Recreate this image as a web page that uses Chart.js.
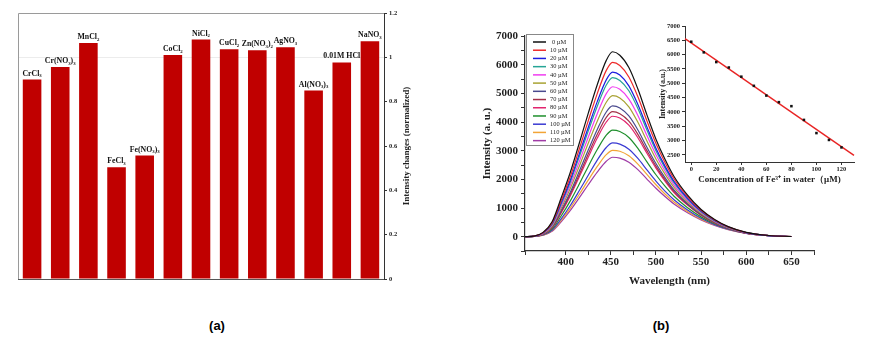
<!DOCTYPE html>
<html>
<head>
<meta charset="utf-8">
<script src="https://cdn.jsdelivr.net/npm/chart.js@4/dist/chart.umd.min.js"></script>
<style>
  html, body { margin: 0; padding: 0; background: #fff; }
  body { width: 872px; height: 338px; position: relative; overflow: hidden; }
  canvas { position: absolute; }
  #chartA { left: 0; top: 0; }
  #chartB { left: 440px; top: 0; }
  #chartC { left: 640px; top: 0; }
  .tag { position: absolute; top: 318px; font: bold 13px "Liberation Sans Narrow", "Liberation Sans", sans-serif; transform: translateX(-50%); }
</style>
</head>
<body>
<canvas id="chartA" width="430" height="300"></canvas>
<canvas id="chartB" width="432" height="300"></canvas>
<canvas id="chartC" width="232" height="200"></canvas>
<div class="tag" style="left:217px">(a)</div>
<div class="tag" style="left:661px">(b)</div>
<script>
// panel (a): normalized intensity change per salt
const salts = ["CrCl₃", "Cr(NO₃)₃", "MnCl₂", "FeCl₃", "Fe(NO₃)₃", "CoCl₂", "NiCl₂", "CuCl₂", "Zn(NO₃)₂", "AgNO₃", "Al(NO₃)₃", "0.01M HCl", "NaNO₃"];
const saltChange = [0.90, 0.956, 1.065, 0.504, 0.557, 1.01, 1.08, 1.036, 1.032, 1.045, 0.85, 0.977, 1.072];
const ticksA = [0, 0.2, 0.4, 0.6, 0.8, 1, 1.2];

// panel (b): emission spectra for each Fe3+ concentration
const wavelengths = [355, 365, 375, 385, 395, 405, 415, 425, 435, 445, 452, 460, 470, 480, 490, 500, 510, 520, 535, 550, 565, 580, 600, 625, 650];
const concLabels = ["0 µM", "10 µM", "20 µM", "30 µM", "40 µM", "50 µM", "60 µM", "70 µM", "80 µM", "90 µM", "100 µM", "110 µM", "120 µM"];
const concColors = ["#111111", "#ee2a2a", "#1c1ce0", "#26a596", "#f03cf0", "#a8a232", "#4a4a8e", "#a23048", "#e2256e", "#1f8f2c", "#3a3ad2", "#f2a436", "#a03ca6"];
const spec0 = [0, 20, 150, 520, 1350, 2230, 3250, 4300, 5300, 6150, 6450, 6330, 5900, 5150, 4250, 3400, 2700, 2100, 1450, 950, 600, 350, 150, 40, 5];
const spec10 = [0, 18, 140, 480, 1250, 2080, 3050, 4040, 4990, 5800, 6080, 5970, 5570, 4880, 4040, 3250, 2590, 2020, 1400, 920, 580, 340, 145, 40, 5];
const spec20 = [0, 17, 130, 450, 1180, 1960, 2880, 3810, 4710, 5470, 5740, 5640, 5260, 4610, 3830, 3080, 2460, 1930, 1340, 890, 565, 335, 140, 38, 5];
const spec30 = [0, 16, 125, 430, 1130, 1890, 2780, 3680, 4550, 5290, 5550, 5450, 5090, 4470, 3720, 3000, 2400, 1880, 1310, 870, 555, 330, 140, 38, 5];
const spec40 = [0, 15, 115, 400, 1060, 1780, 2610, 3470, 4290, 4990, 5230, 5140, 4800, 4230, 3530, 2860, 2290, 1800, 1260, 840, 540, 320, 135, 37, 5];
const spec50 = [0, 14, 105, 370, 990, 1670, 2450, 3260, 4030, 4690, 4920, 4840, 4530, 3990, 3340, 2710, 2180, 1720, 1210, 810, 520, 310, 132, 36, 5];
const spec60 = [0, 13, 95, 340, 910, 1540, 2270, 3020, 3740, 4350, 4560, 4490, 4210, 3720, 3120, 2550, 2060, 1630, 1150, 780, 500, 300, 128, 35, 5];
const spec70 = [0, 12, 90, 320, 860, 1470, 2160, 2880, 3570, 4160, 4360, 4290, 4030, 3570, 3000, 2460, 1990, 1580, 1120, 760, 490, 295, 126, 35, 5];
const spec80 = [0, 12, 85, 305, 825, 1410, 2080, 2770, 3440, 4000, 4200, 4140, 3890, 3450, 2910, 2390, 1940, 1540, 1100, 745, 480, 290, 125, 35, 5];
const spec90 = [0, 10, 75, 265, 720, 1240, 1830, 2450, 3040, 3540, 3720, 3670, 3460, 3080, 2610, 2160, 1760, 1410, 1010, 690, 450, 275, 120, 34, 5];
const spec100 = [0, 9, 60, 225, 620, 1080, 1600, 2140, 2670, 3110, 3270, 3230, 3050, 2730, 2330, 1940, 1590, 1290, 930, 640, 420, 260, 115, 33, 5];
const spec110 = [0, 8, 55, 205, 565, 990, 1470, 1970, 2450, 2860, 3010, 2980, 2820, 2530, 2170, 1810, 1490, 1210, 880, 610, 405, 250, 112, 32, 5];
const spec120 = [0, 7, 50, 185, 515, 905, 1350, 1810, 2250, 2630, 2770, 2740, 2600, 2340, 2010, 1690, 1400, 1140, 835, 585, 390, 242, 110, 32, 5];
const spectra = [spec0, spec10, spec20, spec30, spec40, spec50, spec60, spec70, spec80, spec90, spec100, spec110, spec120];

// inset: peak intensity vs concentration, with linear fit
const fe3Conc = [0, 10, 20, 30, 40, 50, 60, 70, 80, 90, 100, 110, 120];
const peakIntensity = [6450, 6080, 5740, 5550, 5230, 4910, 4570, 4340, 4200, 3720, 3260, 3020, 2760];
const fitX = [-5, 130];
const fitY = [6560, 2480];
const insetXTicks = [0, 20, 40, 60, 80, 100, 120];
const insetYTicks = [2500, 3000, 3500, 4000, 4500, 5000, 5500, 6000, 6500, 7000];

const SERIF = '"Liberation Serif", "Times New Roman", serif';
const axisColor = '#333';
const SUBS = "₀₁₂₃₄₅₆₇₈₉";

// draws a formula with unicode subscript digits as small lowered digits, centred on x
function drawFormula(ctx, text, x, y, size) {
    const parts = [];
    for (const ch of text) {
        const k = SUBS.indexOf(ch);
        const sub = k >= 0;
        const c = sub ? String(k) : ch;
        const last = parts[parts.length - 1];
        if (last && last.sub === sub) last.t += c;
        else parts.push({ t: c, sub });
    }
    const fBig = 'bold ' + size + 'px ' + SERIF;
    const fSub = 'bold ' + (size * 0.62).toFixed(2) + 'px ' + SERIF;
    let w = 0;
    parts.forEach(p => { ctx.font = p.sub ? fSub : fBig; p.w = ctx.measureText(p.t).width; w += p.w; });
    let cx = x - w / 2;
    ctx.textAlign = 'left';
    parts.forEach(p => {
        ctx.font = p.sub ? fSub : fBig;
        ctx.fillText(p.t, cx, p.sub ? y + size * 0.22 : y);
        cx += p.w;
    });
}

/* ---------- panel (a) ---------- */
const barLabels = {
    id: 'barLabels',
    afterDatasetsDraw(chart) {
        const ctx = chart.ctx;
        const meta = chart.getDatasetMeta(0);
        ctx.save();
        ctx.fillStyle = '#111';
        ctx.textBaseline = 'alphabetic';
        meta.data.forEach((bar, i) => {
            drawFormula(ctx, salts[i], bar.x, bar.y - 4, 7.8);
        });
        ctx.restore();
    },
    afterDraw(chart) {
        const { ctx, chartArea: a } = chart;
        ctx.save();
        // light frame left/top, dark bottom
        ctx.strokeStyle = '#9a9a9a';
        ctx.lineWidth = 1;
        ctx.beginPath();
        ctx.moveTo(a.left + 0.5, a.bottom);
        ctx.lineTo(a.left + 0.5, a.top + 0.5);
        ctx.lineTo(a.right, a.top + 0.5);
        ctx.stroke();
        ctx.strokeStyle = '#555';
        ctx.beginPath();
        ctx.moveTo(a.left, a.bottom + 0.5);
        ctx.lineTo(a.right, a.bottom + 0.5);
        ctx.stroke();
        // right axis title, reading bottom to top
        ctx.translate(407, (a.top + a.bottom) / 2);
        ctx.rotate(-Math.PI / 2);
        ctx.font = 'bold 9px ' + SERIF;
        ctx.fillStyle = '#222';
        ctx.textAlign = 'center';
        ctx.textBaseline = 'middle';
        ctx.fillText('Intensity changes (normalized)', 0, 0);
        ctx.restore();
    }
};

new Chart(document.getElementById('chartA'), {
    type: 'bar',
    data: {
        labels: salts,
        datasets: [{
            data: saltChange,
            backgroundColor: '#c00000',
            borderWidth: 0,
            barPercentage: 0.66,
            categoryPercentage: 1
        }]
    },
    options: {
        responsive: false,
        animation: false,
        layout: { padding: { left: 18, top: 13, right: 0, bottom: 21 } },
        plugins: { legend: { display: false }, tooltip: { enabled: false } },
        scales: {
            x: { display: false },
            y: {
                position: 'right',
                min: 0,
                max: 1.2,
                afterBuildTicks: s => { s.ticks = ticksA.map(v => ({ value: v })); },
                afterFit: s => { s.width = 46; },
                border: { color: axisColor, width: 1 },
                grid: {
                    drawOnChartArea: true,
                    color: c => (c.tick && c.tick.value === 1 ? '#ececec' : 'rgba(0,0,0,0)'),
                    tickColor: axisColor,
                    tickLength: 3
                },
                ticks: {
                    padding: 2,
                    color: '#222',
                    font: { family: SERIF, size: 6.5, weight: 'bold' },
                    callback: v => String(Number(v.toFixed(1)))
                }
            }
        }
    },
    plugins: [barLabels]
});

/* ---------- panel (b) main spectra ---------- */
const specLegend = {
    id: 'specLegend',
    afterDraw(chart) {
        const ctx = chart.ctx;
        ctx.save();
        ctx.fillStyle = '#fff';
        ctx.fillRect(87, 34, 47, 111);
        ctx.strokeStyle = '#888';
        ctx.lineWidth = 1;
        ctx.strokeRect(86.5, 34.5, 47, 111);
        ctx.font = '6.4px ' + SERIF;
        ctx.textBaseline = 'middle';
        ctx.textAlign = 'left';
        concLabels.forEach((lab, i) => {
            const y = 42 + i * 8.22;
            ctx.strokeStyle = concColors[i];
            ctx.lineWidth = 1.5;
            ctx.beginPath();
            ctx.moveTo(93, y);
            ctx.lineTo(106, y);
            ctx.stroke();
            ctx.fillStyle = '#222';
            ctx.fillText(lab, i === 0 ? 112 : 110, y);
        });
        ctx.restore();
    }
};

new Chart(document.getElementById('chartB'), {
    type: 'line',
    data: {
        datasets: spectra.map((arr, i) => ({
            label: concLabels[i],
            data: arr.map((v, j) => ({ x: wavelengths[j], y: v })),
            borderColor: concColors[i],
            borderWidth: 1.2,
            pointRadius: 0,
            cubicInterpolationMode: 'monotone',
            fill: false
        }))
    },
    options: {
        responsive: false,
        animation: false,
        layout: { padding: { left: 0, top: 36, right: 58, bottom: 0 } },
        plugins: { legend: { display: false }, tooltip: { enabled: false } },
        scales: {
            x: {
                type: 'linear',
                min: 355,
                max: 675,
                afterFit: s => { s.height = 49; },
                border: { color: axisColor, width: 1.2 },
                grid: { drawOnChartArea: false, tickColor: axisColor, tickLength: 4 },
                ticks: {
                    stepSize: 25,
                    padding: 1,
                    autoSkip: false,
                    maxRotation: 0,
                    color: '#222',
                    font: { family: SERIF, size: 11, weight: 'bold' },
                    callback: v => (v % 50 === 0 ? String(v) : '')
                },
                title: {
                    display: true,
                    text: 'Wavelength (nm)',
                    color: '#222',
                    font: { family: SERIF, size: 11, weight: 'bold' },
                    padding: { top: 0, bottom: 12 }
                }
            },
            y: {
                min: -500,
                max: 7000,
                afterFit: s => { s.width = 85; },
                border: { color: axisColor, width: 1.2 },
                grid: { drawOnChartArea: false, tickColor: axisColor, tickLength: 4 },
                ticks: {
                    stepSize: 500,
                    padding: 3,
                    autoSkip: false,
                    color: '#222',
                    font: { family: SERIF, size: 11, weight: 'bold' },
                    callback: v => (v >= 0 && v % 1000 === 0 ? String(v) : '')
                },
                title: {
                    display: true,
                    text: 'Intensity (a. u.)',
                    color: '#222',
                    font: { family: SERIF, size: 11, weight: 'bold' },
                    padding: { top: 41, bottom: 0 }
                }
            }
        }
    },
    plugins: [specLegend]
});

/* ---------- panel (b) inset ---------- */
new Chart(document.getElementById('chartC'), {
    type: 'scatter',
    data: {
        datasets: [
            {
                type: 'line',
                data: fitX.map((x, i) => ({ x, y: fitY[i] })),
                borderColor: '#e82424',
                borderWidth: 1.4,
                pointRadius: 0,
                order: 2
            },
            {
                data: fe3Conc.map((x, i) => ({ x, y: peakIntensity[i] })),
                pointStyle: 'rect',
                pointRadius: 1.8,
                backgroundColor: '#111',
                borderColor: '#111',
                borderWidth: 0,
                order: 1
            }
        ]
    },
    options: {
        responsive: false,
        animation: false,
        clip: false,
        layout: { padding: { left: 0, top: 26, right: 18, bottom: 0 } },
        plugins: { legend: { display: false }, tooltip: { enabled: false } },
        scales: {
            x: {
                type: 'linear',
                min: -5,
                max: 130,
                afterFit: s => { s.height = 38; },
                afterBuildTicks: s => { s.ticks = insetXTicks.map(v => ({ value: v })); },
                border: { color: axisColor, width: 1 },
                grid: { drawOnChartArea: false, tickColor: axisColor, tickLength: 3 },
                ticks: {
                    padding: 0,
                    maxRotation: 0,
                    color: '#222',
                    font: { family: SERIF, size: 6.5, weight: 'bold' },
                    callback: v => String(v)
                },
                title: {
                    display: true,
                    text: 'Concentration of Fe³⁺ in water（μM)',
                    color: '#222',
                    font: { family: SERIF, size: 9, weight: 'bold' },
                    padding: { top: 0, bottom: 15 }
                }
            },
            y: {
                min: 2250,
                max: 7000,
                afterFit: s => { s.width = 45; },
                afterBuildTicks: s => { s.ticks = insetYTicks.map(v => ({ value: v })); },
                border: { color: axisColor, width: 1 },
                grid: { drawOnChartArea: false, tickColor: axisColor, tickLength: 3 },
                ticks: {
                    padding: 2,
                    color: '#222',
                    font: { family: SERIF, size: 6.5, weight: 'bold' },
                    callback: v => String(v)
                },
                title: {
                    display: true,
                    text: 'Intensity (a.u.)',
                    color: '#222',
                    font: { family: SERIF, size: 8, weight: 'bold' },
                    padding: { top: 18, bottom: 0 }
                }
            }
        }
    }
});
</script>
</body>
</html>
